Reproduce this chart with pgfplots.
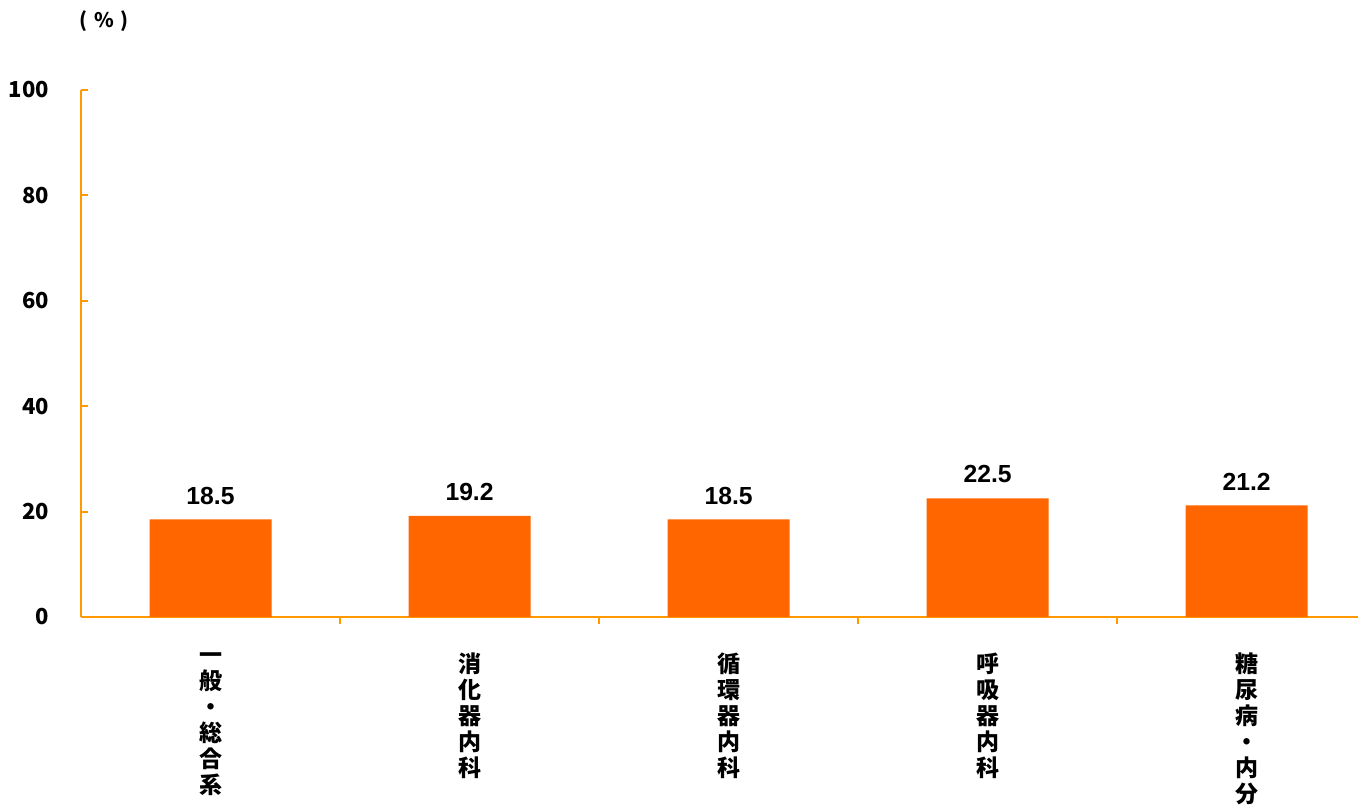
\documentclass[border=0pt]{standalone}
\usepackage{fontspec}
\usepackage{pgfplots}
\pgfplotsset{compat=1.18}
\newfontfamily\cjk{Noto Sans CJK JP}
\newfontfamily\arialb{Liberation Sans}
\definecolor{barorange}{RGB}{255,102,0}
\definecolor{axisorange}{RGB}{255,153,0}

\begin{document}
\begin{tikzpicture}
\begin{axis}[
    at={(81pt,188pt)}, anchor=south west,
    scale only axis,
    width=1277pt, height=527pt,
    xmin=-0.5, xmax=4.43,
    ymin=0, ymax=100,
    axis lines=left,
    axis line style={draw=axisorange, line width=2pt, -},
    every tick/.style={draw=axisorange, line width=2pt},
    tick align=inside,
    xtick={0,1,2,3,4},
    major x tick style={draw=none},
    minor xtick={0.5,1.5,2.5,3.5},
    minor tick length=7pt,
    ytick={0,20,40,60,80,100},
    major tick length=7pt,
    xticklabels={
        {一\\般\\・\\総\\合\\系},
        {消\\化\\器\\内\\科},
        {循\\環\\器\\内\\科},
        {呼\\吸\\器\\内\\科},
        {糖\\尿\\病\\・\\内\\分}},
    x tick label style={font=\cjk\bfseries\fontsize{23}{26}\selectfont,
        align=center, anchor=north, inner sep=0pt, yshift=-29pt},
    y tick label style={font=\cjk\bfseries\fontsize{22}{24}\selectfont,
        anchor=east, inner sep=0pt, xshift=-32pt},
    /pgf/number format/assume math mode=true,
    ybar,
    bar width=122pt,
    nodes near coords,
    nodes near coords style={font=\arialb\bfseries\fontsize{24.7}{26}\selectfont,
        /pgf/number format/.cd, fixed, fixed zerofill, precision=1,
        /tikz/.cd, anchor=south, inner sep=0pt, yshift=15pt, text=black},
    clip=false,
]
\addplot[fill=barorange, draw=none] coordinates {(0,18.5) (1,19.2) (2,18.5) (3,22.5) (4,21.2)};
\end{axis}
\node[font=\cjk\bfseries\fontsize{20}{22}\selectfont, inner sep=0pt] at (104pt,784pt) {(\hspace{7pt}\%\hspace{7pt})};
\pgfresetboundingbox
\useasboundingbox (0,0) rectangle (1358pt,805pt);
\end{tikzpicture}
\end{document}
